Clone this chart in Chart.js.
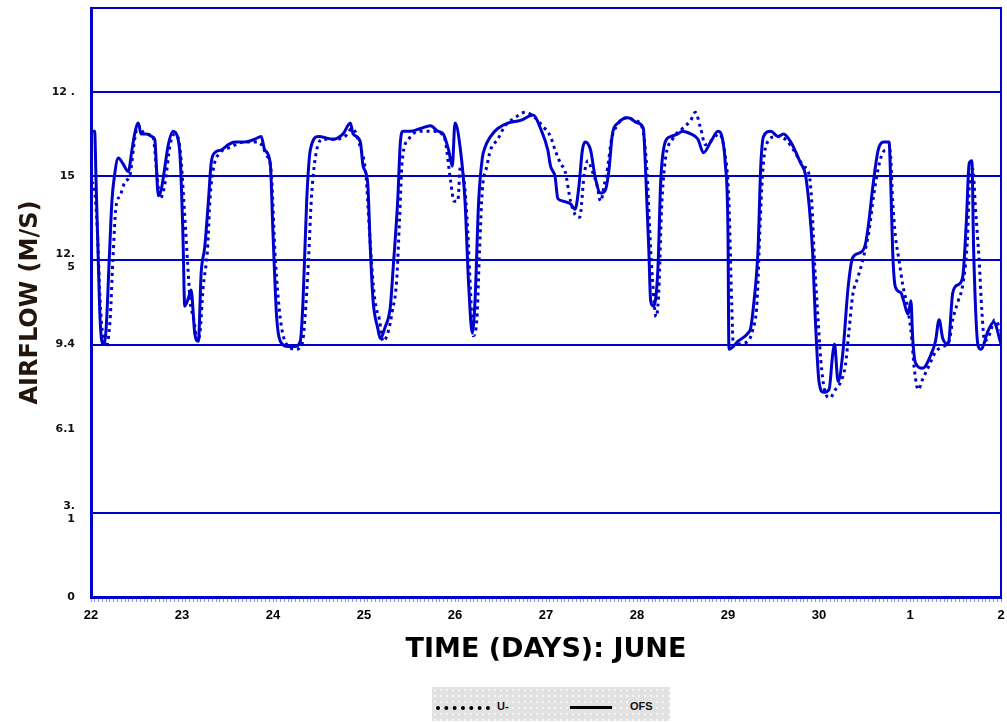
<!DOCTYPE html>
<html>
<head>
<meta charset="utf-8">
<script src="https://cdn.jsdelivr.net/npm/chart.js@4"></script>
<style>
  body { margin: 0; background: #fff; overflow: hidden; }
  #wrap { position: relative; width: 1007px; height: 722px; }
  #legend {
    position: absolute; left: 432px; top: 687px; width: 238px; height: 34px;
    background-color: #e2e2e2;
    background-image: radial-gradient(#f4f4f4 1px, transparent 1px);
    background-size: 6px 6px;
    font: bold 11px "Liberation Sans", sans-serif; color: #111;
  }
  #legend .line { position: absolute; top: 19px; height: 0; }
  #legend .txt { position: absolute; top: 13px; }
</style>
</head>
<body>
<div id="wrap">
  <canvas id="chart"></canvas>
  <div id="legend">
    <span class="line" style="left:4px;width:54px;border-top:4px dotted #000"></span>
    <span class="txt" style="left:65px">U-</span>
    <span class="line" style="left:138px;width:42px;border-top:3px solid #000"></span>
    <span class="txt" style="left:198px">OFS</span>
  </div>
</div>
<script>
// time in days after 22 June 00:00, airflow in m/s
const ofsDays = [
  0.00, 0.04, 0.055, 0.08, 0.10, 0.13, 0.165, 0.20, 0.23, 0.26,
  0.30, 0.35, 0.41, 0.45, 0.48, 0.52, 0.55, 0.61, 0.67, 0.70,
  0.74, 0.77, 0.80, 0.85, 0.90, 0.95, 0.98, 1.01, 1.03, 1.07,
  1.10, 1.14, 1.18, 1.21, 1.25, 1.29, 1.32, 1.36, 1.43, 1.51,
  1.58, 1.69, 1.80, 1.87, 1.91, 1.97, 2.00, 2.04, 2.08, 2.17,
  2.24, 2.30, 2.33, 2.37, 2.41, 2.50, 2.66, 2.77, 2.85, 2.88,
  2.96, 2.99, 3.04, 3.07, 3.10, 3.15, 3.18, 3.23, 3.29, 3.32,
  3.37, 3.40, 3.43, 3.51, 3.62, 3.73, 3.81, 3.87, 3.93, 3.97,
  4.00, 4.06, 4.11, 4.15, 4.19, 4.22, 4.26, 4.30, 4.33, 4.39,
  4.47, 4.58, 4.72, 4.86, 4.94, 5.02, 5.05, 5.10, 5.13, 5.19,
  5.27, 5.32, 5.36, 5.40, 5.43, 5.49, 5.54, 5.60, 5.65, 5.69,
  5.73, 5.79, 5.90, 6.01, 6.07, 6.09, 6.13, 6.15, 6.18, 6.23,
  6.26, 6.31, 6.37, 6.45, 6.50, 6.59, 6.67, 6.73, 6.81, 6.89,
  6.94, 6.97, 7.00, 7.01, 7.11, 7.22, 7.25, 7.28, 7.33, 7.36,
  7.39, 7.47, 7.55, 7.61, 7.69, 7.80, 7.85, 7.89, 7.93, 7.96,
  8.00, 8.05, 8.11, 8.15, 8.17, 8.21, 8.26, 8.32, 8.37, 8.46,
  8.51, 8.55, 8.59, 8.65, 8.71, 8.77, 8.79, 8.81, 8.84, 8.90,
  8.93, 8.98, 9.01, 9.03, 9.06, 9.14, 9.23, 9.28, 9.32, 9.36,
  9.42, 9.47, 9.53, 9.58, 9.62, 9.65, 9.68, 9.70, 9.75, 9.78,
  9.86, 9.92, 10.00
];
const ofsFlow = [
  17.3, 17.3, 15.5, 12.5, 10.3, 9.4, 9.9, 12.5, 14.7, 15.7,
  16.3, 16.1, 15.8, 16.6, 17.2, 17.6, 17.2, 17.2, 17.1, 17.0,
  14.9, 15.1, 15.7, 16.8, 17.3, 17.1, 16.3, 13.5, 10.8, 11.1,
  11.4, 9.8, 9.5, 12.0, 13.0, 14.7, 16.1, 16.5, 16.6, 16.8,
  16.9, 16.9, 17.0, 17.1, 16.6, 16.1, 13.5, 10.4, 9.5, 9.3,
  9.3, 9.5, 11.0, 14.7, 16.6, 17.1, 17.0, 17.2, 17.6, 17.2,
  16.9, 16.0, 15.4, 12.9, 11.0, 10.0, 9.6, 10.0, 10.8, 12.2,
  14.7, 16.9, 17.3, 17.3, 17.4, 17.5, 17.3, 17.2, 16.6, 16.0,
  17.6, 16.6, 14.7, 11.6, 9.8, 11.0, 14.7, 16.3, 16.7, 17.1,
  17.4, 17.6, 17.7, 17.9, 17.4, 16.6, 16.0, 15.6, 14.8, 14.7,
  14.6, 14.4, 15.2, 16.6, 16.9, 16.6, 15.6, 15.0, 15.1, 15.8,
  17.2, 17.6, 17.8, 17.6, 17.4, 16.2, 12.9, 11.0, 10.8, 12.2,
  15.4, 16.9, 17.1, 17.2, 17.3, 17.2, 17.0, 16.5, 16.9, 17.3,
  17.0, 16.1, 13.5, 9.2, 9.5, 9.8, 10.0, 10.8, 12.9, 16.0,
  17.1, 17.3, 17.1, 17.2, 16.9, 16.1, 15.7, 14.6, 12.8, 10.3,
  8.0, 7.6, 7.7, 9.0, 9.4, 8.0, 9.0, 11.5, 12.6, 12.8,
  13.1, 14.0, 15.2, 16.6, 16.9, 16.9, 15.2, 12.8, 11.5, 11.3,
  11.0, 10.5, 11.0, 9.6, 8.7, 8.5, 9.0, 9.5, 10.3, 9.6,
  9.4, 11.3, 11.6, 11.9, 14.0, 16.1, 16.2, 12.8, 9.3, 9.2,
  9.9, 10.2, 9.4
];
const uDays = [
  0.00, 0.03, 0.07, 0.10, 0.13, 0.165, 0.21, 0.24, 0.275, 0.32,
  0.37, 0.43, 0.48, 0.52, 0.59, 0.68, 0.73, 0.76, 0.81, 0.87,
  0.92, 0.98, 1.02, 1.06, 1.09, 1.13, 1.17, 1.20, 1.23, 1.28,
  1.31, 1.35, 1.42, 1.53, 1.69, 1.84, 1.93, 1.98, 2.02, 2.06,
  2.10, 2.17, 2.25, 2.32, 2.35, 2.39, 2.42, 2.46, 2.54, 2.68,
  2.79, 2.87, 2.96, 3.02, 3.06, 3.09, 3.12, 3.17, 3.21, 3.27,
  3.31, 3.36, 3.39, 3.42, 3.49, 3.62, 3.75, 3.88, 3.95, 3.99,
  4.03, 4.06, 4.10, 4.14, 4.17, 4.20, 4.24, 4.27, 4.30, 4.35,
  4.39, 4.47, 4.55, 4.66, 4.77, 4.88, 4.96, 5.05, 5.10, 5.16,
  5.21, 5.27, 5.32, 5.37, 5.42, 5.46, 5.51, 5.56, 5.60, 5.64,
  5.68, 5.72, 5.78, 5.88, 5.98, 6.06, 6.11, 6.14, 6.17, 6.21,
  6.24, 6.27, 6.31, 6.39, 6.50, 6.59, 6.64, 6.70, 6.75, 6.83,
  6.90, 6.96, 7.01, 7.04, 7.06, 7.13, 7.22, 7.27, 7.32, 7.35,
  7.38, 7.42, 7.53, 7.63, 7.72, 7.83, 7.89, 7.92, 7.95, 7.99,
  8.02, 8.06, 8.12, 8.18, 8.24, 8.29, 8.33, 8.37, 8.43, 8.48,
  8.55, 8.60, 8.67, 8.73, 8.78, 8.81, 8.84, 8.88, 8.92, 8.97,
  9.01, 9.05, 9.09, 9.14, 9.21, 9.28, 9.36, 9.43, 9.47, 9.53,
  9.58, 9.63, 9.66, 9.69, 9.72, 9.76, 9.79, 9.82, 9.88, 9.93,
  10.00
];
const uFlow = [
  15.4, 15.3, 13.6, 11.0, 9.7, 9.3, 10.3, 12.5, 14.5, 14.9,
  15.4, 15.7, 17.0, 17.5, 17.2, 17.1, 15.5, 14.8, 15.3, 16.8,
  17.2, 16.6, 14.7, 12.5, 11.0, 10.3, 9.5, 9.9, 11.4, 12.9,
  14.9, 16.0, 16.5, 16.7, 16.9, 16.9, 16.4, 15.8, 12.9, 11.0,
  9.9, 9.3, 9.2, 9.4, 10.3, 12.5, 14.7, 16.2, 17.0, 17.0,
  17.1, 17.4, 16.7, 15.7, 13.6, 12.1, 11.0, 10.3, 9.5, 9.9,
  10.6, 11.8, 14.0, 16.2, 17.0, 17.3, 17.3, 17.1, 15.5, 14.7,
  14.7, 16.0, 15.5, 13.6, 11.4, 9.7, 10.3, 12.9, 15.1, 16.0,
  16.6, 17.0, 17.5, 17.8, 18.0, 17.8, 17.5, 17.1, 16.6, 16.1,
  15.8, 14.7, 14.2, 14.1, 15.7, 16.2, 15.8, 15.3, 14.7, 15.3,
  16.0, 17.0, 17.5, 17.8, 17.7, 17.4, 15.8, 13.6, 11.8, 10.4,
  11.4, 14.4, 16.2, 17.0, 17.4, 17.7, 18.0, 17.4, 16.8, 17.0,
  17.2, 16.6, 14.7, 11.0, 9.3, 9.4, 9.5, 9.9, 11.0, 13.6,
  15.7, 16.8, 17.1, 17.0, 16.6, 16.0, 15.7, 14.7, 12.5, 10.3,
  8.8, 7.7, 7.4, 7.7, 8.0, 8.6, 9.9, 11.2, 11.9, 12.5,
  13.6, 14.9, 16.2, 16.6, 16.6, 14.7, 13.4, 12.5, 11.6, 10.8,
  9.9, 8.4, 7.7, 8.1, 8.6, 9.1, 9.3, 9.5, 10.3, 11.0,
  11.6, 13.2, 15.7, 15.9, 14.4, 12.5, 10.6, 9.5, 9.8, 10.3,
  9.9
];

const dayLabels = ["22", "23", "24", "25", "26", "27", "28", "29", "30", "1", "2"];
const flowLabels = ["0", ["3.", "1"], "6.1", "9.4", ["12.", "5"], "15", "12 .", ""];
const flowStep = 3.125;
const gridAt = [1, 3, 4, 5, 6]; // tick indexes that get a gridline

const blue = "#0000cc";

function toPoints(xs, ys) {
  return xs.map((x, i) => ({ x: x, y: ys[i] }));
}

// frame round the plot area (top and right sides)
const framePlugin = {
  id: "frame",
  afterDatasetsDraw(chart) {
    const { ctx, chartArea: a } = chart;
    ctx.save();
    ctx.strokeStyle = blue;
    ctx.lineWidth = 2;
    ctx.beginPath();
    ctx.moveTo(a.left, a.top);
    ctx.lineTo(a.right, a.top);
    ctx.lineTo(a.right, a.bottom);
    ctx.stroke();
    ctx.restore();
  },
};

const ctx = document.getElementById("chart").getContext("2d");
new Chart(ctx, {
  type: "line",
  data: {
    datasets: [
      {
        label: "U-",
        data: toPoints(uDays, uFlow),
        borderColor: blue,
        borderWidth: 3,
        borderDash: [3, 4],
        pointRadius: 0,
        cubicInterpolationMode: "monotone",
      },
      {
        label: "OFS",
        data: toPoints(ofsDays, ofsFlow),
        borderColor: blue,
        borderWidth: 3,
        pointRadius: 0,
        cubicInterpolationMode: "monotone",
      },
    ],
  },
  options: {
    responsive: true,
    maintainAspectRatio: false,
    animation: false,
    layout: { padding: { top: 8, right: 6, left: 0, bottom: 0 } },
    plugins: { legend: { display: false }, tooltip: { enabled: false } },
    scales: {
      x: {
        type: "linear",
        min: 0,
        max: 10,
        afterFit: (scale) => {
          scale.height = 125;
          scale.paddingLeft = 0;
          scale.paddingRight = 0;
        },
        border: { color: blue, width: 3 },
        grid: { drawOnChartArea: false, drawTicks: true, tickLength: 5, tickColor: "#8c8cf0" },
        ticks: {
          stepSize: 1 / 24,
          autoSkip: false,
          maxRotation: 0,
          padding: 6,
          color: "#000",
          font: { family: "Liberation Sans", weight: "bold", size: 13 },
          callback: (v) => {
            const r = Math.round(v);
            return Math.abs(v - r) < 1e-6 ? dayLabels[r] : "";
          },
        },
        title: {
          display: true,
          text: "TIME (DAYS): JUNE",
          color: "#000",
          font: { family: "DejaVu Sans", weight: "bold", size: 27 },
          padding: { top: 0, bottom: 56 },
        },
      },
      y: {
        min: 0,
        max: 21.875,
        afterFit: (scale) => {
          scale.width = 91;
          scale.paddingTop = 0;
          scale.paddingBottom = 0;
        },
        border: { color: blue, width: 3 },
        grid: {
          drawTicks: false,
          lineWidth: 2,
          color: (c) => {
            const i = Math.round(c.tick.value / flowStep);
            return gridAt.includes(i) ? blue : "rgba(0,0,0,0)";
          },
        },
        ticks: {
          stepSize: flowStep,
          padding: 16,
          color: "#111",
          font: { family: "DejaVu Sans", weight: "bold", size: 11 },
          callback: (v) => flowLabels[Math.round(v / flowStep)],
        },
        title: {
          display: true,
          text: "AIRFLOW (M/S)",
          color: "#24160c",
          font: { family: "DejaVu Sans", weight: "bold", size: 24 },
          padding: { top: 16, bottom: 0 },
        },
      },
    },
  },
  plugins: [framePlugin],
});
</script>
</body>
</html>
